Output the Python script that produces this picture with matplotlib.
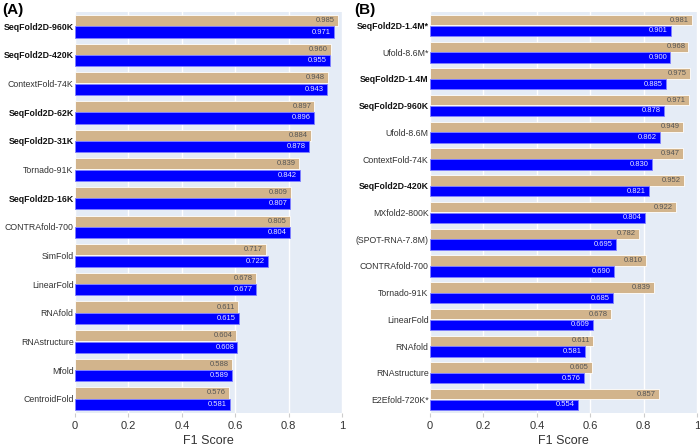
import matplotlib
matplotlib.use("Agg")
import matplotlib.pyplot as plt
import numpy as np

plt.rcParams['font.family'] = ['Liberation Sans', 'DejaVu Sans']

# Panel A
labels_a = ["SeqFold2D-960K", "SeqFold2D-420K", "ContextFold-74K", "SeqFold2D-62K",
            "SeqFold2D-31K", "Tornado-91K", "SeqFold2D-16K", "CONTRAfold-700",
            "SimFold", "LinearFold", "RNAfold", "RNAstructure", "Mfold", "CentroidFold"]
train_a = [0.985, 0.960, 0.948, 0.897, 0.884, 0.839, 0.809, 0.805,
           0.717, 0.678, 0.611, 0.604, 0.588, 0.576]
test_a = [0.971, 0.955, 0.943, 0.896, 0.878, 0.842, 0.807, 0.804,
          0.722, 0.677, 0.615, 0.608, 0.589, 0.581]

# Panel B
labels_b = ["SeqFold2D-1.4M*", "Ufold-8.6M*", "SeqFold2D-1.4M", "SeqFold2D-960K",
            "Ufold-8.6M", "ContextFold-74K", "SeqFold2D-420K", "MXfold2-800K",
            "(SPOT-RNA-7.8M)", "CONTRAfold-700", "Tornado-91K", "LinearFold",
            "RNAfold", "RNAstructure", "E2Efold-720K*"]
train_b = [0.981, 0.968, 0.975, 0.971, 0.949, 0.947, 0.952, 0.922,
           0.782, 0.810, 0.839, 0.678, 0.611, 0.605, 0.857]
test_b = [0.901, 0.900, 0.885, 0.878, 0.862, 0.830, 0.821, 0.804,
          0.695, 0.690, 0.685, 0.609, 0.581, 0.576, 0.554]

xticks = [0, 0.2, 0.4, 0.6, 0.8, 1]
xticklabels = ["0", "0.2", "0.4", "0.6", "0.8", "1"]

TAN = "#D2B48C"
BLUE = "#0000FF"
BG = "#E5ECF6"

fig = plt.figure(figsize=(7, 4.47), dpi=100)
ax_a = fig.add_axes([75/700, 1-413/447, 267/700, 401/447])
ax_b = fig.add_axes([430/700, 1-413/447, 267/700, 401/447])


def draw(ax, labels, train, test):
    n = len(labels)
    y = np.arange(n)
    h = 0.39
    ax.set_facecolor(BG)
    ax.barh(y - 0.2, train, height=h, color=TAN, edgecolor="white", linewidth=0.6, zorder=3)
    ax.barh(y + 0.2, test, height=h, color=BLUE, edgecolor="#8080ff", linewidth=0.6, zorder=3)
    for yi, v in zip(y, train):
        ax.text(v - 0.012, yi - 0.2, f"{v:.3f}", ha="right", va="center",
                fontsize=5.5, color="#555555", zorder=4)
    for yi, v in zip(y, test):
        ax.text(v - 0.012, yi + 0.2, f"{v:.3f}", ha="right", va="center",
                fontsize=5.5, color="#e8e8ff", zorder=4)
    ax.set_ylim(n - 0.5, -0.5)
    ax.set_xlim(0, 1)
    ax.set_xticks(xticks)
    ax.set_xticklabels(xticklabels, fontsize=8, color="#333333")
    ax.xaxis.grid(True, color="white", linewidth=1, zorder=0)
    ax.set_axisbelow(True)
    ax.set_yticks(y)
    ax.set_yticklabels(labels, fontsize=6.3, color="#333333")
    for lab in ax.get_yticklabels():
        if lab.get_text().startswith("SeqFold2D"):
            lab.set_fontweight("bold")
            lab.set_color("#111111")
    ax.tick_params(axis="y", length=0, pad=1)
    ax.tick_params(axis="x", length=3, color="#cccccc", pad=3)
    for s in ax.spines.values():
        s.set_visible(False)
    ax.set_xlabel("F1 Score", fontsize=9, color="#333333", labelpad=3)


draw(ax_a, labels_a, train_a, test_a)
draw(ax_b, labels_b, train_b, test_b)

fig.text(2/700, 1-10/447, "(A)", fontsize=11, fontweight="bold", va="center", ha="left")
fig.text(354/700, 1-10/447, "(B)", fontsize=11, fontweight="bold", va="center", ha="left")

fig.savefig("out.png", dpi=100)
